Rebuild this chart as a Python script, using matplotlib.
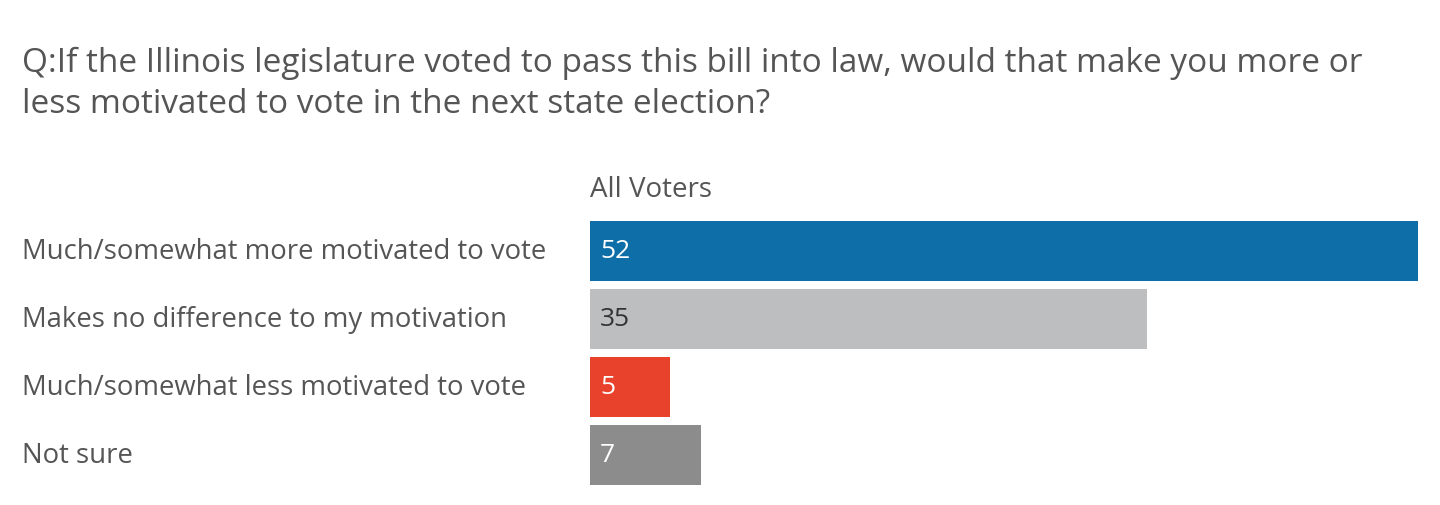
import matplotlib
matplotlib.use("Agg")
import matplotlib.pyplot as plt

categories = ["Much/somewhat more motivated to vote",
              "Makes no difference to my motivation",
              "Much/somewhat less motivated to vote",
              "Not sure"]
values = [52, 35, 5, 7]
bar_colors = ["#0e6ea8", "#bdbec0", "#e8412c", "#8c8c8c"]
label_colors = ["white", "#333333", "white", "white"]
series_name = "All Voters"
title = ("Q:If the Illinois legislature voted to pass this bill into law, would that make you more or\n"
         "less motivated to vote in the next state election?")

plt.rcParams['font.family'] = ['Open Sans', 'DejaVu Sans']
W, H = 1440, 506
fig = plt.figure(figsize=(W/100, H/100), dpi=100)
fig.patch.set_facecolor("white")

ax = fig.add_axes([590/W, 1 - 490/H, 828/W, 272/H])
ypos = list(range(len(values)))
ax.barh(ypos, values, height=60/68, color=bar_colors, left=0)
ax.set_xlim(0, max(values))
ax.set_ylim(len(values) - 0.5, -0.5)
ax.axis("off")

for y, v, c in zip(ypos, values, label_colors):
    ax.annotate(str(v), xy=(0, y), xytext=(10, 0), textcoords="offset pixels",
                ha="left", va="center", fontsize=19, color=c)

for y, cat in zip(ypos, categories):
    ax.annotate(cat, xy=(0, y), xycoords=("axes fraction", "data"),
                xytext=(22 - 590, 0), textcoords="offset pixels",
                ha="left", va="center", fontsize=19.8, color="#555555")

fig.text(590/W, 1 - 190/H, series_name, ha="left", va="center", fontsize=20, color="#555555")
fig.text(22/W, 1 - 84/H, title, ha="left", va="center", fontsize=24, color="#555555",
         linespacing=1.34)

fig.savefig("out.png", dpi=100, facecolor="white")
